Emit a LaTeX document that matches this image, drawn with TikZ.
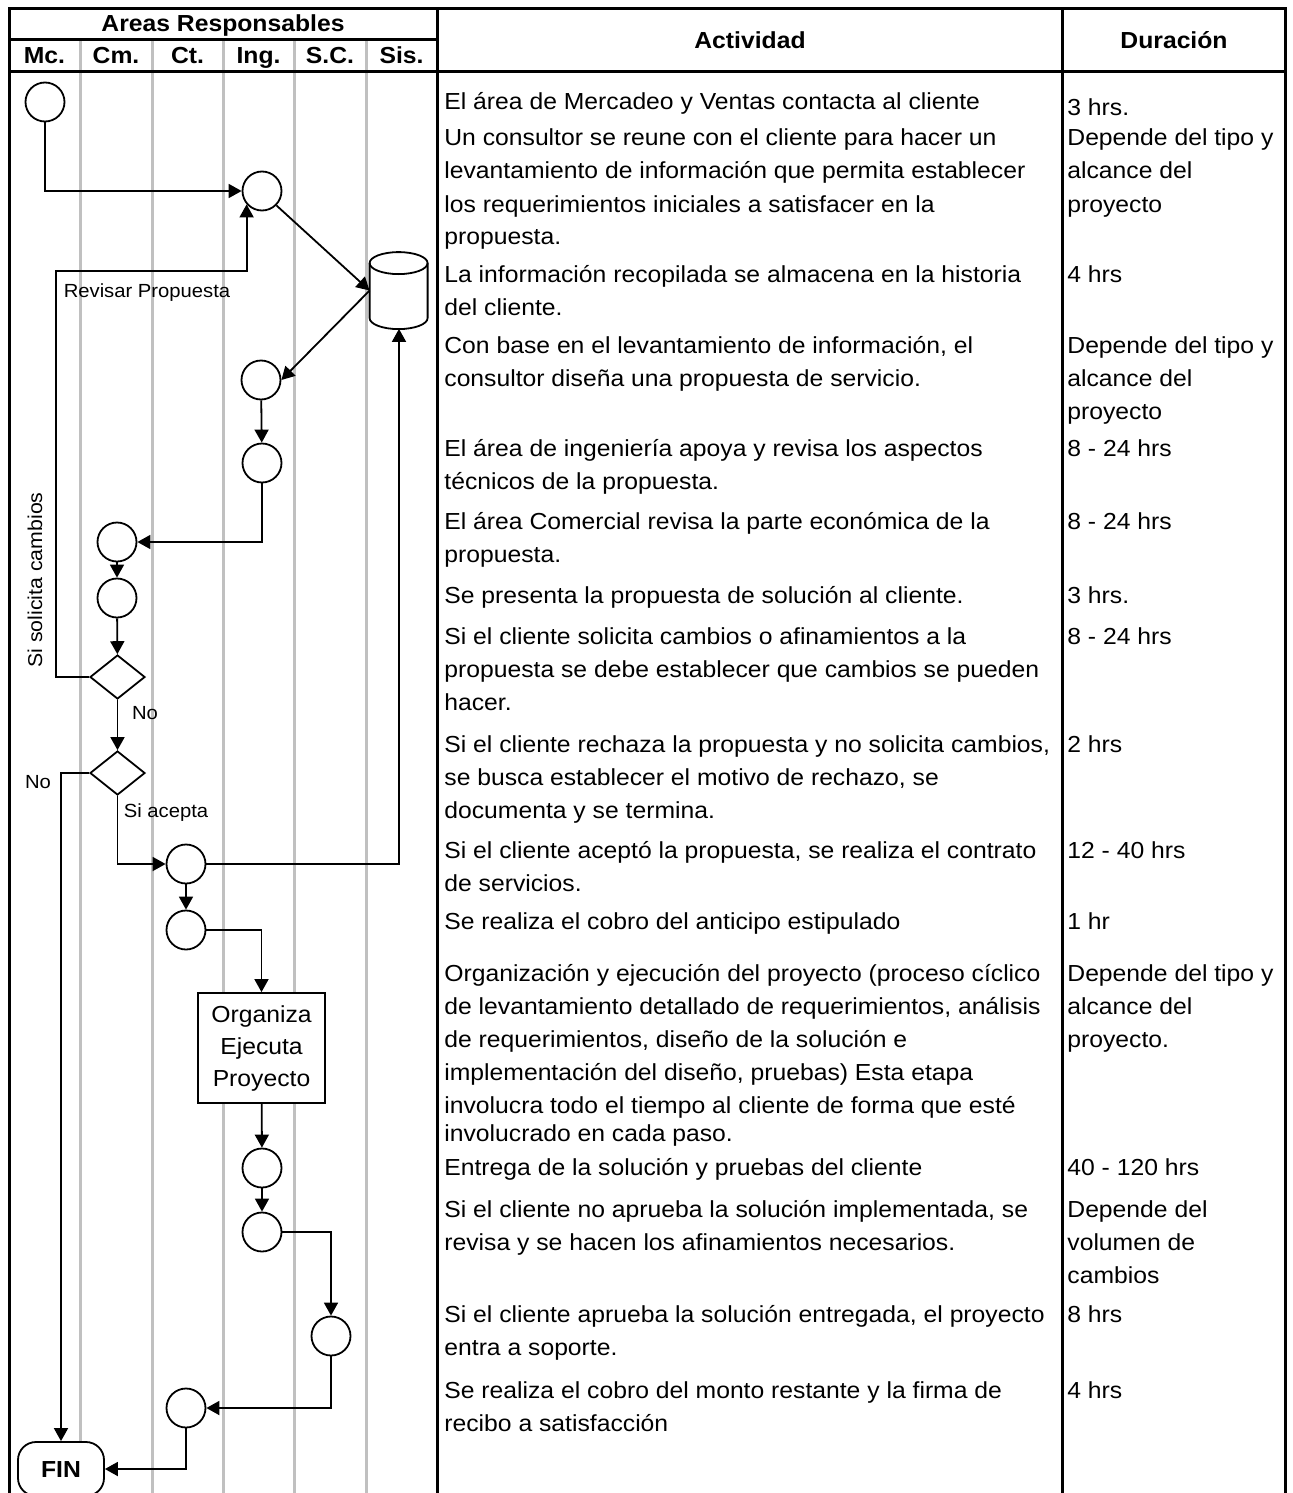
\documentclass[tikz,border=0pt]{standalone}
\usepackage{fontspec}
\setmainfont[FakeStretch=1.065]{Liberation Sans}
\usetikzlibrary{positioning, arrows.meta, shapes.geometric}
\definecolor{lanegray}{HTML}{C0C0C0}
\newcommand{\actfont}{\fontsize{11.6pt}{16.5pt}\selectfont}
\newcommand{\lblfont}{\fontsize{9.5pt}{11pt}\selectfont}
\newcommand{\filas}[1]{\begin{tabular}[t]{@{}l@{}}#1\end{tabular}}

\begin{document}
\begin{tikzpicture}[x=0.5pt, y=-0.5pt,
    paso/.style={circle, draw, fill=white, line width=0.9pt, minimum size=19.5pt, inner sep=0pt},
    decide/.style={diamond, draw, fill=white, line width=0.9pt, minimum width=27.5pt, minimum height=22pt, inner sep=0pt},
    tarea/.style={rectangle, draw, fill=white, line width=0.9pt, minimum width=63.5pt, minimum height=55pt,
      align=center, font=\fontsize{11.6pt}{16pt}\selectfont},
    term/.style={rectangle, rounded corners=9pt, draw, fill=white, line width=0.9pt, minimum width=43pt,
      minimum height=27pt, font=\actfont\bfseries},
    datos/.style={rectangle, minimum width=29pt, minimum height=38pt, inner sep=0pt},
    flow/.style={-{Triangle[length=6.5pt, width=7pt]}, line width=0.9pt},
    act/.style={anchor=base west, inner sep=0pt, font=\actfont},
    hdr/.style={anchor=base, inner sep=0pt, font=\actfont\bfseries},
    lab/.style={inner sep=0pt, font=\lblfont},
    borde/.style={line width=1.5pt},
    carril/.style={lanegray, line width=1.5pt}
  ]
    \useasboundingbox (0,0) rectangle (1292,1493);
    \clip (0,0) rectangle (1292,1493);

    % carriles y marco
    \foreach \x in {80,152,223,294,366}
      \draw[carril] (\x,40) -- (\x,1500);
    \draw[borde] (9,1500) -- (9,9) -- (1285,9) -- (1285,1500);
    \draw[borde] (437,9) -- (437,1500);
    \draw[borde] (1062,9) -- (1062,1500);
    \draw[borde] (9,40) -- (437,40);
    \draw[borde] (9,72) -- (1285,72);

    % encabezados
    \node[hdr] (areas) at (223,32) {Areas Responsables};
    \node[hdr] (mc)  at (44.5,64) {Mc.};
    \node[hdr] (cm)  at (116,64)  {Cm.};
    \node[hdr] (ct)  at (187.5,64) {Ct.};
    \node[hdr] (ing) at (258.5,64) {Ing.};
    \node[hdr] (sc)  at (330,64)  {S.C.};
    \node[hdr] (sis) at (401.5,64) {Sis.};
    \node[hdr] (acth) at (750,49)  {Actividad};
    \node[hdr] (durh) at (1174,49) {Duración};

    % diagrama
    \node[paso]   (ini)  at (45,102)  {};
    \node[paso]   (reun) at (262,191) {};
    \node[datos]  (hist) at (399,290.5) {};
    \draw[line width=0.9pt, fill=white] (hist.north west) ++(0,11) -- ++(0,55)
      arc[start angle=180, end angle=0, x radius=29, y radius=11] -- ++(0,-55)
      arc[start angle=0, end angle=-180, x radius=29, y radius=11] -- cycle;
    \draw[line width=0.9pt] (hist.north west) ++(0,11)
      arc[start angle=180, end angle=0, x radius=29, y radius=11];
    \node[paso]   (dise) at (261,380) {};
    \node[paso]   (ingr) at (262,463) {};
    \node[paso]   (come) at (117,542) {};
    \node[paso]   (pres) at (117,598) {};
    \node[decide] (camb) at (117.5,677) {};
    \node[decide] (acep) at (117.5,773) {};
    \node[paso]   (cont) at (186,864) {};
    \node[paso]   (cobr) at (186,930) {};
    \node[tarea]  (proy) at (261.5,1048) {Organiza\\Ejecuta\\Proyecto};
    \node[paso]   (entr) at (262,1168) {};
    \node[paso]   (revi) at (262,1232) {};
    \node[paso]   (sopo) at (331,1336) {};
    \node[paso]   (pago) at (186,1408) {};
    \node[term]   (fin)  at (61,1469) {FIN};
    \coordinate (rv) at (56,271);

    \draw[flow] (ini.south) |- (reun.west);
    \draw[flow] (reun.south east) -- (hist.west);
    \draw[flow] (hist.west) -- (dise.east);
    \draw[flow] (dise) -- (ingr);
    \draw[flow] (ingr.south) |- (come.east);
    \draw[flow] (come) -- (pres);
    \draw[flow] (pres) -- (camb);
    \draw[flow] (camb.west) -| (rv) -| (reun.221);
    \draw[flow] (camb) -- (acep);
    \draw[flow] (acep.west) -| (fin.north);
    \draw[flow] (acep.south) |- (cont.west);
    \draw[flow] (cont.east) -| (hist.south);
    \draw[flow] (cont) -- (cobr);
    \draw[flow] (cobr.east) -| (proy.north);
    \draw[flow] (proy) -- (entr);
    \draw[flow] (entr) -- (revi);
    \draw[flow] (revi.east) -| (sopo.north);
    \draw[flow] (sopo.south) |- (pago.east);
    \draw[flow] (pago.south) |- (fin.east);

    \node[lab] (lrev) at (147,293) {Revisar Propuesta};
    \node[lab, rotate=90, font=\fontsize{10pt}{12pt}\selectfont] (lsol) at (35,580) {Si solicita cambios};
    \node[lab] (lno1) at (145,713) {No};
    \node[lab] (lno2) at (38,782) {No};
    \node[lab] (lsi)  at (166,813) {Si acepta};

    % actividades
    \node[act] (a1)  at (444,110) {\filas{El área de Mercadeo y Ventas contacta al cliente}};
    \node[act] (a2)  at (444,146) {\filas{Un consultor se reune con el cliente para hacer un\\levantamiento de información que permita establecer\\los requerimientos iniciales a satisfacer en la\\propuesta.}};
    \node[act] (a3)  at (444,282) {\filas{La información recopilada se almacena en la historia\\del cliente.}};
    \node[act] (a4)  at (444,353) {\filas{Con base en el levantamiento de información, el\\consultor diseña una propuesta de servicio.}};
    \node[act] (a5)  at (444,456) {\filas{El área de ingeniería apoya y revisa los aspectos\\técnicos de la propuesta.}};
    \node[act] (a6)  at (444,529) {\filas{El área Comercial revisa la parte económica de la\\propuesta.}};
    \node[act] (a7)  at (444,603) {\filas{Se presenta la propuesta de solución al cliente.}};
    \node[act] (a8)  at (444,644) {\filas{Si el cliente solicita cambios o afinamientos a la\\propuesta se debe establecer que cambios se pueden\\hacer.}};
    \node[act] (a9)  at (444,752) {\filas{Si el cliente rechaza la propuesta y no solicita cambios,\\se busca establecer el motivo de rechazo, se\\documenta y se termina.}};
    \node[act] (a10) at (444,858) {\filas{Si el cliente aceptó la propuesta, se realiza el contrato\\de servicios.}};
    \node[act] (a11) at (444,929) {\filas{Se realiza el cobro del anticipo estipulado}};
    \node[act] (a12) at (444,981) {\filas{Organización y ejecución del proyecto (proceso cíclico\\de levantamiento detallado de requerimientos, análisis\\de requerimientos, diseño de la solución e\\implementación del diseño, pruebas) Esta etapa\\involucra todo el tiempo al cliente de forma que esté\\[-2.5pt]involucrado en cada paso.}};
    \node[act] (a13) at (444,1175) {\filas{Entrega de la solución y pruebas del cliente}};
    \node[act] (a14) at (444,1217) {\filas{Si el cliente no aprueba la solución implementada, se\\revisa y se hacen los afinamientos necesarios.}};
    \node[act] (a15) at (444,1322) {\filas{Si el cliente aprueba la solución entregada, el proyecto\\entra a soporte.}};
    \node[act] (a16) at (444,1398) {\filas{Se realiza el cobro del monto restante y la firma de\\recibo a satisfacción}};

    % duraciones
    \node[act] (d1)  at (1067,116)  {\filas{3 hrs.}};
    \node[act] (d2)  at (1067,146)  {\filas{Depende del tipo y\\alcance del\\proyecto}};
    \node[act] (d3)  at (1067,282)  {\filas{4 hrs}};
    \node[act] (d4)  at (1067,353)  {\filas{Depende del tipo y\\alcance del\\proyecto}};
    \node[act] (d5)  at (1067,456)  {\filas{8 - 24 hrs}};
    \node[act] (d6)  at (1067,529)  {\filas{8 - 24 hrs}};
    \node[act] (d7)  at (1067,603)  {\filas{3 hrs.}};
    \node[act] (d8)  at (1067,644)  {\filas{8 - 24 hrs}};
    \node[act] (d9)  at (1067,752)  {\filas{2 hrs}};
    \node[act] (d10) at (1067,858)  {\filas{12 - 40 hrs}};
    \node[act] (d11) at (1067,929)  {\filas{1 hr}};
    \node[act] (d12) at (1067,981)  {\filas{Depende del tipo y\\alcance del\\proyecto.}};
    \node[act] (d13) at (1067,1175) {\filas{40 - 120 hrs}};
    \node[act] (d14) at (1067,1217) {\filas{Depende del\\volumen de\\cambios}};
    \node[act] (d15) at (1067,1322) {\filas{8 hrs}};
    \node[act] (d16) at (1067,1398) {\filas{4 hrs}};
\end{tikzpicture}
\end{document}
